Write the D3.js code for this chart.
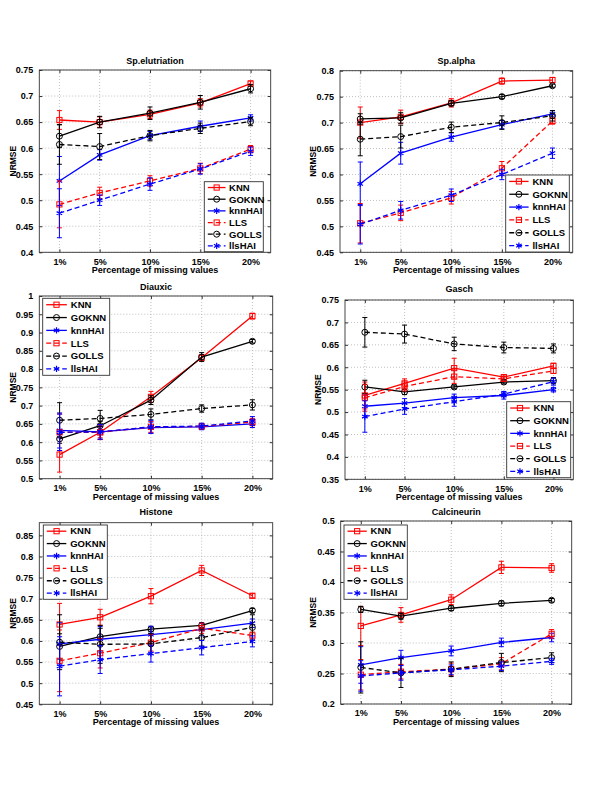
<!DOCTYPE html>
<html><head><meta charset="utf-8">
<script src="https://cdn.jsdelivr.net/npm/d3@7"></script>
<style>
body{margin:0;background:#fff}
text{font-family:"Liberation Sans",Arial,Helvetica,sans-serif;font-weight:bold;fill:#000}
</style>
</head><body>
<svg id="chart" width="600" height="786"></svg>
<script>
// ---------- shared categories ----------
const missingPct = [1, 5, 10, 15, 20];
const xTickLabels = ["1%", "5%", "10%", "15%", "20%"];
const methods = ["KNN", "GOKNN", "knnHAI", "LLS", "GOLLS", "llsHAI"];

// ---------- Sp.elutriation ----------
const elutMean = [
  [0.654, 0.650, 0.665, 0.687, 0.724],
  [0.623, 0.650, 0.667, 0.688, 0.714],
  [0.537, 0.587, 0.624, 0.642, 0.658],
  [0.492, 0.514, 0.537, 0.561, 0.598],
  [0.607, 0.603, 0.624, 0.638, 0.651],
  [0.475, 0.500, 0.531, 0.560, 0.594]
];
const elutErr = [
  [0.018, 0.010, 0.008, 0.008, 0.005],
  [0.022, 0.011, 0.012, 0.013, 0.008],
  [0.047, 0.010, 0.008, 0.010, 0.006],
  [0.045, 0.011, 0.010, 0.010, 0.007],
  [0.038, 0.025, 0.010, 0.010, 0.008],
  [0.047, 0.010, 0.012, 0.010, 0.008]
];
const elutYTicks = [0.4, 0.45, 0.5, 0.55, 0.6, 0.65, 0.7, 0.75];

// ---------- Sp.alpha ----------
const alphaMean = [
  [0.700, 0.711, 0.738, 0.780, 0.782],
  [0.707, 0.709, 0.737, 0.750, 0.771],
  [0.582, 0.641, 0.672, 0.696, 0.717],
  [0.506, 0.526, 0.555, 0.612, 0.703],
  [0.668, 0.673, 0.691, 0.700, 0.713],
  [0.504, 0.531, 0.560, 0.600, 0.641]
];
const alphaErr = [
  [0.030, 0.013, 0.008, 0.006, 0.005],
  [0.010, 0.010, 0.005, 0.004, 0.003],
  [0.042, 0.021, 0.008, 0.008, 0.006],
  [0.038, 0.015, 0.012, 0.013, 0.006],
  [0.032, 0.022, 0.010, 0.013, 0.010],
  [0.038, 0.017, 0.012, 0.010, 0.010]
];
const alphaYTicks = [0.45, 0.5, 0.55, 0.6, 0.65, 0.7, 0.75, 0.8];

// ---------- Diauxic ----------
const diauxMean = [
  [0.566, 0.627, 0.724, 0.831, 0.945],
  [0.609, 0.645, 0.715, 0.833, 0.876],
  [0.632, 0.628, 0.640, 0.642, 0.650],
  [0.627, 0.627, 0.642, 0.643, 0.655],
  [0.660, 0.665, 0.676, 0.692, 0.702],
  [0.627, 0.628, 0.642, 0.644, 0.658]
];
const diauxErr = [
  [0.048, 0.015, 0.015, 0.008, 0.008],
  [0.012, 0.012, 0.012, 0.012, 0.005],
  [0.048, 0.020, 0.015, 0.008, 0.010],
  [0.050, 0.020, 0.015, 0.008, 0.010],
  [0.048, 0.022, 0.015, 0.010, 0.014],
  [0.050, 0.020, 0.018, 0.008, 0.012]
];
const diauxYTicks = [0.5, 0.55, 0.6, 0.65, 0.7, 0.75, 0.8, 0.85, 0.9, 0.95, 1];

// ---------- Gasch ----------
const gaschMean = [
  [0.537, 0.564, 0.598, 0.578, 0.603],
  [0.556, 0.545, 0.556, 0.567, 0.570],
  [0.513, 0.520, 0.532, 0.537, 0.550],
  [0.532, 0.557, 0.579, 0.574, 0.592],
  [0.678, 0.674, 0.652, 0.644, 0.642],
  [0.490, 0.507, 0.523, 0.540, 0.568]
];
const gaschErr = [
  [0.030, 0.010, 0.022, 0.005, 0.006],
  [0.015, 0.006, 0.004, 0.004, 0.007],
  [0.025, 0.010, 0.008, 0.008, 0.005],
  [0.030, 0.010, 0.015, 0.005, 0.006],
  [0.033, 0.020, 0.015, 0.012, 0.010],
  [0.035, 0.012, 0.010, 0.006, 0.008]
];
const gaschYTicks = [0.35, 0.4, 0.45, 0.5, 0.55, 0.6, 0.65, 0.7, 0.75];

// ---------- Histone ----------
const histMean = [
  [0.639, 0.656, 0.706, 0.767, 0.707],
  [0.587, 0.610, 0.628, 0.637, 0.672],
  [0.593, 0.604, 0.615, 0.627, 0.642],
  [0.553, 0.571, 0.596, 0.630, 0.613],
  [0.597, 0.592, 0.593, 0.608, 0.632],
  [0.540, 0.556, 0.570, 0.584, 0.599]
];
const histErr = [
  [0.050, 0.019, 0.018, 0.012, 0.005],
  [0.030, 0.020, 0.005, 0.006, 0.005],
  [0.050, 0.030, 0.020, 0.015, 0.010],
  [0.073, 0.035, 0.020, 0.012, 0.008],
  [0.065, 0.045, 0.025, 0.020, 0.030],
  [0.070, 0.033, 0.020, 0.017, 0.013]
];
const histYTicks = [0.45, 0.5, 0.55, 0.6, 0.65, 0.7, 0.75, 0.8, 0.85];

// ---------- Calcineurin ----------
const calciMean = [
  [0.328, 0.346, 0.371, 0.424, 0.423],
  [0.355, 0.344, 0.357, 0.365, 0.370],
  [0.264, 0.276, 0.287, 0.301, 0.309],
  [0.248, 0.253, 0.257, 0.266, 0.315],
  [0.260, 0.251, 0.257, 0.268, 0.276],
  [0.246, 0.251, 0.256, 0.262, 0.270]
];
const calciErr = [
  [0.032, 0.012, 0.008, 0.010, 0.007],
  [0.005, 0.005, 0.004, 0.004, 0.003],
  [0.030, 0.012, 0.008, 0.007, 0.007],
  [0.025, 0.012, 0.010, 0.010, 0.007],
  [0.042, 0.024, 0.012, 0.015, 0.008],
  [0.025, 0.012, 0.008, 0.007, 0.005]
];
const calciYTicks = [0.2, 0.25, 0.3, 0.35, 0.4, 0.45, 0.5];

// ---------- styles ----------
const seriesColor = ["#ff0000", "#000000", "#0000ff", "#ff0000", "#000000", "#0000ff"];
const seriesDash = [null, null, null, "5,3", "5,3", "5,3"];
const seriesMarker = ["square", "circle", "star", "square", "circle", "star"];

// ---------- panel layout ----------
const panels = [
  {title: "Sp.elutriation", mean: elutMean, err: elutErr, yTicks: elutYTicks, ylim: [0.4, 0.75],
   box: [39.3, 70, 270.7, 252.3], titleY: 60, ylabX: 12.5, legend: [204.3, 181.7, 59, 70]},
  {title: "Sp.alpha", mean: alphaMean, err: alphaErr, yTicks: alphaYTicks, ylim: [0.45, 0.8],
   box: [340, 70.7, 572.7, 252.3], titleY: 60, ylabX: 313, legend: [505.7, 175, 63.6, 77]},
  {title: "Diauxic", mean: diauxMean, err: diauxErr, yTicks: diauxYTicks, ylim: [0.5, 1],
   box: [39.3, 296, 272.7, 478.7], titleY: 286, ylabX: 12.5, legend: [42.7, 298.3, 67, 77]},
  {title: "Gasch", mean: gaschMean, err: gaschErr, yTicks: gaschYTicks, ylim: [0.35, 0.75],
   box: [345, 300, 573.3, 479.3], titleY: 288, ylabX: 318, legend: [506.7, 401.7, 64, 76]},
  {title: "Histone", mean: histMean, err: histErr, yTicks: histYTicks, ylim: [0.45, 0.88],
   box: [39.3, 522.7, 272.7, 704.3], titleY: 511.5, ylabX: 12.5, legend: [43.3, 525, 64, 74.3]},
  {title: "Calcineurin", mean: calciMean, err: calciErr, yTicks: calciYTicks, ylim: [0.2, 0.5],
   box: [340.7, 521, 571.7, 704], titleY: 511, ylabX: 313, legend: [344, 525, 63.3, 74.3]}
];

const svg = d3.select("#chart");
const fmt = v => String(+v.toFixed(2));

function drawMarker(g, type, x, y, color) {
  if (type === "square") {
    g.append("rect").attr("x", x - 2.6).attr("y", y - 2.6).attr("width", 5.2).attr("height", 5.2)
      .attr("fill", "none").attr("stroke", color).attr("stroke-width", 1);
  } else if (type === "circle") {
    g.append("circle").attr("cx", x).attr("cy", y).attr("r", 3)
      .attr("fill", "none").attr("stroke", color).attr("stroke-width", 1);
  } else {
    g.append("path").attr("d", d3.symbol().type(d3.symbolAsterisk).size(28)())
      .attr("transform", `translate(${x},${y})`)
      .attr("fill", "none").attr("stroke", color).attr("stroke-width", 1.2);
  }
}

panels.forEach(p => {
  const [bx0, by0, bx1, by1] = p.box;
  const x = d3.scaleLinear().domain([-1, 22]).range([bx0, bx1]);
  const y = d3.scaleLinear().domain(p.ylim).range([by1, by0]);
  const g = svg.append("g");

  // background
  g.append("rect").attr("x", bx0).attr("y", by0).attr("width", bx1 - bx0).attr("height", by1 - by0)
    .attr("fill", "#fff");

  // grid
  g.selectAll(".gy").data(p.yTicks).enter().append("line")
    .attr("x1", bx0).attr("x2", bx1).attr("y1", d => y(d)).attr("y2", d => y(d))
    .attr("stroke", "#b0b0b0").attr("stroke-width", 0.8).attr("stroke-dasharray", "1,2");
  g.selectAll(".gx").data(missingPct).enter().append("line")
    .attr("y1", by0).attr("y2", by1).attr("x1", d => x(d)).attr("x2", d => x(d))
    .attr("stroke", "#b0b0b0").attr("stroke-width", 0.8).attr("stroke-dasharray", "1,2");

  // axes via d3 axis (inward ticks)
  const yAxis = d3.axisLeft(y).tickValues(p.yTicks).tickFormat(fmt).tickSizeInner(-3).tickSizeOuter(0).tickPadding(6);
  const gy = g.append("g").attr("transform", `translate(${bx0},0)`).call(yAxis);
  gy.select(".domain").remove();
  gy.selectAll("text").attr("font-size", "9px").style("font-family", '"Liberation Sans",Arial,sans-serif').style("font-weight", "bold");
  gy.selectAll("line").attr("stroke", "#333");
  const yAxisR = d3.axisRight(y).tickValues(p.yTicks).tickFormat("").tickSizeInner(-3).tickSizeOuter(0);
  const gyr = g.append("g").attr("transform", `translate(${bx1},0)`).call(yAxisR);
  gyr.select(".domain").remove(); gyr.selectAll("line").attr("stroke", "#333");

  const xAxis = d3.axisBottom(x).tickValues(missingPct).tickFormat((d, i) => xTickLabels[i]).tickSizeInner(-3).tickSizeOuter(0).tickPadding(6);
  const gx = g.append("g").attr("transform", `translate(0,${by1})`).call(xAxis);
  gx.select(".domain").remove();
  gx.selectAll("text").attr("font-size", "9px").style("font-family", '"Liberation Sans",Arial,sans-serif').style("font-weight", "bold");
  gx.selectAll("line").attr("stroke", "#333");
  const xAxisT = d3.axisTop(x).tickValues(missingPct).tickFormat("").tickSizeInner(-3).tickSizeOuter(0);
  const gxt = g.append("g").attr("transform", `translate(0,${by0})`).call(xAxisT);
  gxt.select(".domain").remove(); gxt.selectAll("line").attr("stroke", "#333");

  // frame
  g.append("rect").attr("x", bx0).attr("y", by0).attr("width", bx1 - bx0).attr("height", by1 - by0)
    .attr("fill", "none").attr("stroke", "#333").attr("stroke-width", 0.9);

  // labels
  g.append("text").attr("x", (bx0 + bx1) / 2).attr("y", p.titleY + 3.5).attr("text-anchor", "middle")
    .attr("font-size", "9px").text(p.title);
  g.append("text").attr("x", (bx0 + bx1) / 2).attr("y", by1 + 21).attr("text-anchor", "middle")
    .attr("font-size", "9px").text("Percentage of missing values");
  g.append("text").attr("transform", `translate(${p.ylabX + 3},${(by0 + by1) / 2}) rotate(-90)`)
    .attr("text-anchor", "middle").attr("font-size", "8.5px").text("NRMSE");

  // series
  const line = d3.line().x((d, i) => x(missingPct[i])).y(d => y(d));
  methods.forEach((m, s) => {
    const sg = g.append("g");
    const vals = p.mean[s], errs = p.err[s];
    // error bars
    vals.forEach((v, i) => {
      const cx = x(missingPct[i]);
      const top = y(v + errs[i]), bot = y(v - errs[i]);
      sg.append("line").attr("x1", cx).attr("x2", cx).attr("y1", top).attr("y2", bot)
        .attr("stroke", seriesColor[s]).attr("stroke-width", 1);
      [top, bot].forEach(yy => sg.append("line").attr("x1", cx - 2.5).attr("x2", cx + 2.5)
        .attr("y1", yy).attr("y2", yy).attr("stroke", seriesColor[s]).attr("stroke-width", 1));
    });
    sg.append("path").datum(vals).attr("d", line).attr("fill", "none")
      .attr("stroke", seriesColor[s]).attr("stroke-width", 1.3)
      .attr("stroke-dasharray", seriesDash[s]);
    vals.forEach((v, i) => drawMarker(sg, seriesMarker[s], x(missingPct[i]), y(v), seriesColor[s]));
  });

  // legend
  const [lx, ly, lw, lh] = p.legend;
  const lg = g.append("g");
  lg.append("rect").attr("x", lx).attr("y", ly).attr("width", lw).attr("height", lh)
    .attr("fill", "#fff").attr("stroke", "#333").attr("stroke-width", 0.9);
  const rowH = lh / 6;
  const sampleL = lx + 3.5, sampleR = lx + lw * 0.36, textX = lx + lw * 0.42;
  methods.forEach((m, s) => {
    const ry = ly + rowH * (s + 0.5);
    lg.append("line").attr("x1", sampleL).attr("x2", sampleR).attr("y1", ry).attr("y2", ry)
      .attr("stroke", seriesColor[s]).attr("stroke-width", 1.3).attr("stroke-dasharray", seriesDash[s]);
    drawMarker(lg, seriesMarker[s], (sampleL + sampleR) / 2, ry, seriesColor[s]);
    lg.append("text").attr("x", textX).attr("y", ry + 3.3).attr("font-size", "9.5px").text(m);
  });
});
</script>
</body></html>
